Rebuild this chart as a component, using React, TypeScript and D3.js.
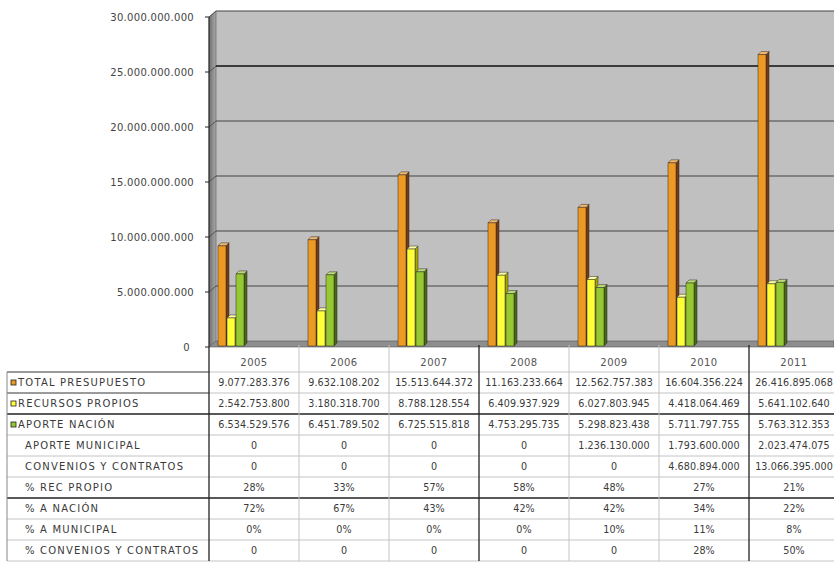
import React from "react";
import * as d3 from "d3";

// Budget by year (pesos)
const years = ["2005", "2006", "2007", "2008", "2009", "2010", "2011"];
const totalPresupuesto = [9077283376, 9632108202, 15513644372, 11163233664, 12562757383, 16604356224, 26416895068];
const recursosPropios = [2542753800, 3180318700, 8788128554, 6409937929, 6027803945, 4418064469, 5641102640];
const aporteNacion = [6534529576, 6451789502, 6725515818, 4753295735, 5298823438, 5711797755, 5763312353];
const aporteMunicipal = [0, 0, 0, 0, 1236130000, 1793600000, 2023474075];
const conveniosContratos = [0, 0, 0, 0, 0, 4680894000, 13066395000];
const pctRecPropio = [28, 33, 57, 58, 48, 27, 21];
const pctNacion = [72, 67, 43, 42, 42, 34, 22];
const pctMunicipal = [0, 0, 0, 0, 10, 11, 8];
const pctConvenios = [0, 0, 0, 0, 0, 28, 50];
const yTicks = [0, 5e9, 10e9, 15e9, 20e9, 25e9, 30e9];

const seriesNames = ["TOTAL PRESUPUESTO", "RECURSOS PROPIOS", "APORTE NACIÓN"];
const seriesValues = [totalPresupuesto, recursosPropios, aporteNacion];

const locale = d3.formatLocale({ decimal: ",", thousands: ".", grouping: [3], currency: ["$", ""] });
const fmtNum = locale.format(",d");
const fmtPct = (v: number) => `${v}%`;
const fmtPctOrZero = (v: number) => (v === 0 ? "0" : `${v}%`);

type Row = { label: string; values: string[]; key?: number };
const rows: Row[] = [
  { label: seriesNames[0], values: totalPresupuesto.map(fmtNum), key: 0 },
  { label: seriesNames[1], values: recursosPropios.map(fmtNum), key: 1 },
  { label: seriesNames[2], values: aporteNacion.map(fmtNum), key: 2 },
  { label: "APORTE MUNICIPAL", values: aporteMunicipal.map(fmtNum) },
  { label: "CONVENIOS Y CONTRATOS", values: conveniosContratos.map(fmtNum) },
  { label: "% REC PROPIO", values: pctRecPropio.map(fmtPct) },
  { label: "% A NACIÓN", values: pctNacion.map(fmtPct) },
  { label: "% A MUNICIPAL", values: pctMunicipal.map(fmtPct) },
  { label: "% CONVENIOS Y CONTRATOS", values: pctConvenios.map(fmtPctOrZero) },
];

// face colours per series: front, side, top
const palette = [
  { front: "#ED9A24", side: "#7A3A0C", top: "#F3B870" },
  { front: "#FFFF3A", side: "#A8A400", top: "#FFFFA8" },
  { front: "#96C832", side: "#4A6A10", top: "#BCDC78" },
];

const W = 834;
const H = 563;
const axisX = 209; // front edge of the value axis
const depth = 7; // wall depth offset
const depthY = 6;
const rightX = 834;
const tableLeft = 7;

const FONT = "'DejaVu Sans', Verdana, sans-serif";

export default function App() {
  const xCol = d3.scaleBand<string>().domain(years).range([axisX, axisX + 90 * years.length]).padding(0);
  const yFront = d3.scaleLinear().domain([0, 30e9]).range([347, 17]);
  const yBack = (v: number) => yFront(v) - depthY;
  const yBar = d3.scaleLinear().domain([0, 30e9]).range([346, 15]);

  const barW = 8;
  const barStep = 9;
  const barD = 3;
  const barOffset = 9;

  const headerTop = 343;
  const headerBottom = 372;
  const rowH = 21;
  const tableBottom = headerBottom + rowH * rows.length;

  const wallLeft = axisX + depth;

  return (
    <svg
      width={W}
      height={H}
      viewBox={`0 0 ${W} ${H}`}
      style={{ position: "absolute", left: 0, top: 0, background: "#fff" }}
    >
      <defs>
        <linearGradient id="sideWall" x1="0" x2="1" y1="0" y2="0">
          <stop offset="0" stopColor="#6f6f6f" />
          <stop offset="1" stopColor="#a9a9a9" />
        </linearGradient>
      </defs>

      {/* back wall */}
      <rect x={wallLeft} y={yBack(30e9)} width={rightX - wallLeft} height={yBack(0) - yBack(30e9)} fill="#C0C0C0" />
      {/* left side wall */}
      <polygon
        points={`${axisX},${yFront(30e9)} ${wallLeft},${yBack(30e9)} ${wallLeft},${yBack(0)} ${axisX},${yFront(0)}`}
        fill="url(#sideWall)"
        stroke="#555"
        strokeWidth={0.6}
      />
      {/* floor */}
      <polygon
        points={`${axisX},${yFront(0)} ${wallLeft},${yBack(0)} ${rightX},${yBack(0)} ${rightX},${yFront(0)}`}
        fill="#8e8e8e"
        stroke="#555"
        strokeWidth={0.6}
      />

      {/* gridlines */}
      {yTicks.filter((t) => t > 0).map((t) => (
        <g key={t}>
          <line
            x1={wallLeft}
            x2={rightX}
            y1={yBack(t)}
            y2={yBack(t)}
            stroke={t === 25e9 ? "#111" : "#444"}
            strokeWidth={t === 25e9 ? 1.6 : 1}
          />
          <line x1={axisX} x2={wallLeft} y1={yFront(t)} y2={yBack(t)} stroke="#444" strokeWidth={0.8} />
        </g>
      ))}

      {/* value axis */}
      <line x1={axisX} x2={axisX} y1={yFront(30e9)} y2={yFront(0)} stroke="#222" strokeWidth={1} />
      {yTicks.map((t) => (
        <g key={t}>
          <line x1={axisX - 4} x2={axisX} y1={yFront(t)} y2={yFront(t)} stroke="#222" />
          <text
            x={t === 0 ? 190 : 194}
            y={yFront(t) + 4}
            textAnchor="end"
            fontFamily={FONT}
            fontSize={10}
            letterSpacing={0.3}
            fill="#444"
          >
            {fmtNum(t)}
          </text>
        </g>
      ))}

      {/* 3D columns */}
      {years.map((yr, i) => {
        const x0 = (xCol(yr) as number) + barOffset;
        return (
          <g key={yr}>
            {seriesValues.map((vals, s) => {
              const x = x0 + s * barStep;
              const top = yBar(vals[i]);
              const base = yBar(0);
              const c = palette[s];
              return (
                <g key={s} stroke="#2a2a2a" strokeWidth={0.5} strokeLinejoin="round">
                  <polygon
                    points={`${x + barW},${top} ${x + barW + barD},${top - barD} ${x + barW + barD},${base - barD} ${x + barW},${base}`}
                    fill={c.side}
                  />
                  <polygon
                    points={`${x},${top} ${x + barD},${top - barD} ${x + barW + barD},${top - barD} ${x + barW},${top}`}
                    fill={c.top}
                  />
                  <rect x={x} y={top} width={barW} height={base - top} fill={c.front} />
                </g>
              );
            })}
          </g>
        );
      })}

      {/* data table */}
      <g fontFamily={FONT} fontSize={10} fill="#3a3a3a">
        {/* horizontal rules */}
        {rows.map((_, r) => {
          const y = headerBottom + r * rowH;
          const dark = r === 2 || r === 6;
          return (
            <line
              key={`h${r}`}
              x1={tableLeft}
              x2={rightX}
              y1={y}
              y2={y}
              stroke={dark ? "#222" : "#c4c4c4"}
              strokeWidth={dark ? 1.3 : 1}
            />
          );
        })}
        <line x1={tableLeft} x2={rightX} y1={tableBottom} y2={tableBottom} stroke="#c4c4c4" />
        {/* label column outline for the first rows */}
        <line x1={tableLeft} x2={axisX} y1={headerBottom} y2={headerBottom} stroke="#555" />
        <line x1={tableLeft} x2={axisX} y1={headerBottom + rowH} y2={headerBottom + rowH} stroke="#555" />
        <line x1={tableLeft} x2={tableLeft} y1={headerBottom} y2={tableBottom} stroke="#888" />

        {/* vertical rules */}
        {years.map((yr, i) => {
          const x = xCol(yr) as number;
          const dark = i === 0 || i === 3 || i === 6;
          return (
            <line
              key={`v${yr}`}
              x1={x}
              x2={x}
              y1={i === 0 ? yFront(0) : headerTop + 2}
              y2={tableBottom}
              stroke={dark ? "#222" : "#c4c4c4"}
              strokeWidth={dark ? 1.3 : 1}
            />
          );
        })}

        {/* year headers */}
        {years.map((yr) => (
          <text
            key={`y${yr}`}
            x={(xCol(yr) as number) + xCol.bandwidth() / 2}
            y={366}
            textAnchor="middle"
            letterSpacing={0.5}
            fill="#555"
          >
            {yr}
          </text>
        ))}

        {/* rows */}
        {rows.map((row, r) => {
          const yMid = headerBottom + r * rowH + rowH / 2;
          return (
            <g key={row.label}>
              {row.key !== undefined && (
                <rect
                  x={11}
                  y={yMid - 2.5}
                  width={5}
                  height={5}
                  fill={palette[row.key].front}
                  stroke="#222"
                  strokeWidth={0.8}
                />
              )}
              <text x={row.key !== undefined ? 18 : 25} y={yMid + 3.6} letterSpacing={1.2}>
                {row.label}
              </text>
              {row.values.map((v, i) => (
                <text
                  key={i}
                  x={(xCol(years[i]) as number) + xCol.bandwidth() / 2}
                  y={yMid + 3.6}
                  textAnchor="middle"
                  fontSize={9.6}
                  letterSpacing={0.1}
                >
                  {v}
                </text>
              ))}
            </g>
          );
        })}
      </g>
    </svg>
  );
}
